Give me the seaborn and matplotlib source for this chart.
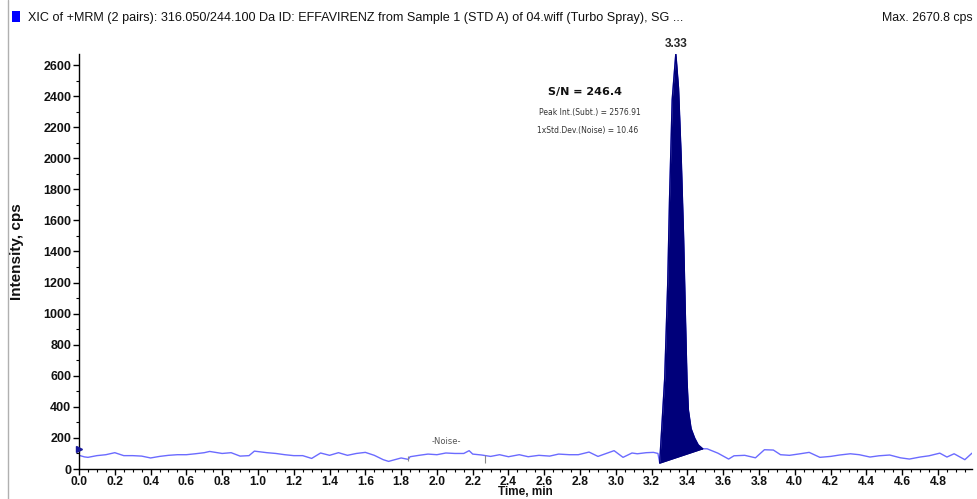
import numpy as np
import pandas as pd
import matplotlib
matplotlib.use("Agg")
import matplotlib.pyplot as plt
import seaborn as sns
from matplotlib.lines import Line2D
from matplotlib.patches import Rectangle
from matplotlib.ticker import MultipleLocator

# ---------------- data ----------------
time_min = [0.00, 0.03, 0.05, 0.10, 0.15, 0.20, 0.25, 0.30, 0.35, 0.40, 0.45, 0.50, 0.55,
            0.60, 0.65, 0.70, 0.73, 0.80, 0.85, 0.90, 0.95, 0.98, 1.05, 1.10, 1.15, 1.20,
            1.25, 1.30, 1.35, 1.40, 1.45, 1.50, 1.55, 1.60, 1.65, 1.70, 1.73, 1.80, 1.84,
            1.85, 1.90, 1.95, 2.00, 2.05, 2.10, 2.15, 2.18, 2.20, 2.25, 2.30, 2.35, 2.40,
            2.46, 2.51, 2.57, 2.63, 2.68, 2.74, 2.79, 2.85, 2.90, 2.99, 3.04, 3.09, 3.12,
            3.17, 3.21, 3.235,
            3.245, 3.273, 3.29, 3.30, 3.315, 3.335, 3.35, 3.365, 3.378, 3.388, 3.397,
            3.405, 3.42, 3.44, 3.46, 3.485,
            3.51, 3.57, 3.63, 3.66, 3.72, 3.78, 3.83, 3.88, 3.92, 3.97, 4.03, 4.08, 4.14,
            4.20, 4.25, 4.31, 4.36, 4.42, 4.47, 4.53, 4.59, 4.64, 4.70, 4.75, 4.81, 4.85,
            4.89, 4.95, 4.99]
intensity_cps = [88, 78, 75, 86, 92, 105, 86, 86, 83, 71, 81, 88, 92,
                 92, 98, 105, 113, 100, 105, 83, 86, 115, 105, 100, 92, 86,
                 86, 68, 103, 88, 105, 88, 100, 107, 88, 60, 49, 71, 62,
                 79, 88, 96, 92, 103, 100, 100, 118, 96, 90, 81, 92, 79,
                 92, 79, 88, 83, 96, 92, 92, 109, 81, 118, 75, 103, 98,
                 105, 107, 100,
                 40, 583, 1200, 1737, 2378, 2670.8, 2450, 2000, 1500, 1000, 580,
                 380, 260, 199, 155, 130,
                 130, 102, 64, 85, 88, 72, 124, 122, 92, 88, 98, 107, 75,
                 81, 90, 98, 92, 77, 85, 90, 72, 64, 77, 85, 102, 77,
                 98, 60, 102]

peak_rt = 3.33
peak_start, peak_end = 3.245, 3.485
peak_base_start, peak_base_end = 38, 130
noise_start, noise_end = 1.84, 2.27
left_marker_value = 130

title_text = ("XIC of +MRM (2 pairs): 316.050/244.100 Da ID: EFFAVIRENZ from Sample 1 "
              "(STD A) of 04.wiff (Turbo Spray), SG ...")
max_text = "Max. 2670.8 cps"
sn_text = "S/N = 246.4"
peak_int_text = "Peak Int.(Subt.) = 2576.91"
std_text = "1xStd.Dev.(Noise) = 10.46"

df = pd.DataFrame({"Time, min": time_min, "Intensity, cps": intensity_cps})

# ---------------- figure ----------------
sns.set_theme(style="white")
plt.rcParams["font.family"] = ["Liberation Sans", "DejaVu Sans"]

W, H = 977, 499
fig = plt.figure(figsize=(W / 100, H / 100), dpi=100)
ax_left, ax_right, ax_bottom, ax_top = 79, 972, 469, 54
ax = fig.add_axes([ax_left / W, 1 - ax_bottom / H, (ax_right - ax_left) / W,
                   (ax_bottom - ax_top) / H])

trace_color = "#6b6bff"
fill_color = "#00007a"

sns.lineplot(data=df, x="Time, min", y="Intensity, cps", ax=ax, color=trace_color,
             linewidth=1.0, estimator=None, sort=False)

# integrated peak area
t = np.array(time_min)
y = np.array(intensity_cps, dtype=float)
mask = (t >= peak_start) & (t <= peak_end)
tp = t[mask]
yp = y[mask]
base = np.interp(tp, [peak_start, peak_end], [peak_base_start, peak_base_end])
ax.fill_between(tp, base, yp, color=fill_color, linewidth=0, zorder=3)
ax.plot(tp, yp, color=fill_color, linewidth=1.0, zorder=3)
ax.plot([peak_start, peak_end], [peak_base_start, peak_base_end], color=fill_color,
        linewidth=1.0, zorder=3)

# noise region markers
ax.vlines([noise_start], 50, 85, color="#888888", linewidth=0.8)
ax.vlines([noise_end], 40, 92, color="#888888", linewidth=0.8)
ax.text((noise_start + noise_end) / 2, 150, "-Noise-", ha="center", va="bottom",
        fontsize=6, color="#555555", family=["DejaVu Sans"])

# left edge marker
ax.plot([0], [left_marker_value], marker=">", color="#1a1a9a", markersize=5,
        clip_on=False, zorder=5, linestyle="none")

# axes styling
ax.set_xlim(0, 4.99)
ax.set_ylim(0, 2670.8)
ax.xaxis.set_minor_locator(MultipleLocator(0.05))
ax.yaxis.set_minor_locator(MultipleLocator(100))
ax.set_xticks(np.arange(0, 4.81, 0.2))
ax.set_xticklabels([f"{v:.1f}" for v in np.arange(0, 4.81, 0.2)])
ax.set_yticks(np.arange(0, 2601, 200))
ax.set_yticklabels([f"{int(v)}" for v in np.arange(0, 2601, 200)])
ax.tick_params(axis="both", which="major", direction="out", length=4, width=1,
               color="black", labelsize=9, pad=1.5)
ax.tick_params(axis="x", which="major", labelsize=8.7, pad=1)
ax.tick_params(axis="both", which="minor", direction="out", length=2, width=0.8,
               color="black")
ax.tick_params(axis="x", which="both", bottom=True)
ax.tick_params(axis="y", which="both", left=True)
for lab in ax.get_xticklabels() + ax.get_yticklabels():
    lab.set_fontweight("bold")
    lab.set_color("#111111")
for side in ["top", "right"]:
    ax.spines[side].set_visible(False)
for side in ["left", "bottom"]:
    ax.spines[side].set_color("black")
    ax.spines[side].set_linewidth(1.0)
ax.grid(False)

ax.set_xlabel("Time, min", fontsize=8.5, fontweight="bold", color="#111111")
ax.set_ylabel("Intensity, cps", fontsize=11, fontweight="bold", color="#111111")
ax.xaxis.set_label_coords(0.5, -0.041)
ax.yaxis.set_label_coords(-0.062, 0.525)

# peak label
ax.annotate(f"{peak_rt:.2f}", xy=(3.335, 2670.8), xytext=(0, 3), textcoords="offset points",
            ha="center", va="bottom", fontsize=8.5, fontweight="bold", annotation_clip=False)

# S/N annotations
fig.text(548 / W, 1 - 92 / H, sn_text, fontsize=8, fontweight="bold",
         family=["DejaVu Sans"], va="center", ha="left", color="#111111")
fig.text(539 / W, 1 - 113 / H, peak_int_text, fontsize=5.5,
         family=["DejaVu Sans"], va="center", ha="left", color="#333333")
fig.text(537 / W, 1 - 131 / H, std_text, fontsize=5.5,
         family=["DejaVu Sans"], va="center", ha="left", color="#333333")

# header
fig.patches.append(Rectangle((12 / W, 1 - 22 / H), 8 / W, 11 / H, transform=fig.transFigure,
                             facecolor="#0000ff", edgecolor="none"))
fig.text(28 / W, 1 - 18 / H, title_text, fontsize=9.1, va="center", ha="left",
         color="#111111")
fig.text(882 / W, 1 - 18 / H, max_text, fontsize=8.9, va="center", ha="left",
         color="#111111")
fig.add_artist(Line2D([7.5 / W, 7.5 / W], [0, 1], transform=fig.transFigure,
                      color="#b0b0b0", linewidth=1))

fig.savefig("out.png", dpi=100)
